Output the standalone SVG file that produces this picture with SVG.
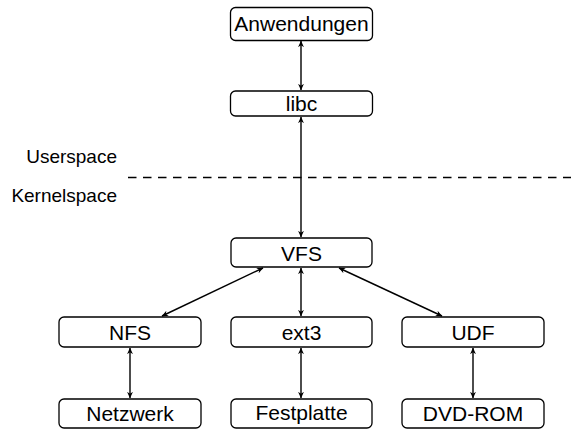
<svg xmlns="http://www.w3.org/2000/svg" width="571" height="429" viewBox="0 0 571 429">
<defs>
<marker id="ah" viewBox="0 0 10 10" refX="9.5" refY="5" markerWidth="6.5" markerHeight="6.5" orient="auto-start-reverse" markerUnits="userSpaceOnUse">
<path d="M0,0.5 L10,5 L0,9.5 L3,5 Z" fill="#000"/>
</marker>
</defs>
<style>
.box{fill:#fff;stroke:#000;stroke-width:1.3}
.t{font-family:"Liberation Sans",Arial,sans-serif;font-size:21px;fill:#000;text-anchor:middle}
.lbl{font-family:"Liberation Sans",Arial,sans-serif;font-size:19px;fill:#000;text-anchor:end}
.c{stroke:#000;stroke-width:1.4;fill:none;marker-start:url(#ah);marker-end:url(#ah)}
</style>
<rect width="571" height="429" fill="#fff"/>
<g id="connectors">
<line class="c" x1="301" y1="41" x2="301" y2="90"/>
<line class="c" x1="301" y1="117" x2="301" y2="237"/>
<line class="c" x1="263" y1="268" x2="162" y2="316"/>
<line class="c" x1="301" y1="268" x2="301" y2="316"/>
<line class="c" x1="339" y1="268" x2="442" y2="316"/>
<line class="c" x1="130" y1="348" x2="130" y2="398"/>
<line class="c" x1="301" y1="348" x2="301" y2="398"/>
<line class="c" x1="473" y1="348" x2="473" y2="398"/>
</g>
<g id="divider">
<line x1="128" y1="177.5" x2="571" y2="177.5" stroke="#000" stroke-width="1.3" stroke-dasharray="8.5 6.5"/>
<text class="lbl" x="117" y="163">Userspace</text>
<text class="lbl" x="117" y="202">Kernelspace</text>
</g>
<g id="anwendungen"><rect class="box" x="230.5" y="7.5" width="142" height="33" rx="5"/><text class="t" x="301.5" y="31">Anwendungen</text></g>
<g id="libc"><rect class="box" x="230.5" y="91" width="142" height="25" rx="5"/><text class="t" x="301.5" y="111">libc</text></g>
<g id="vfs"><rect class="box" x="231" y="238" width="141" height="29" rx="5"/><text class="t" x="301.5" y="260.5">VFS</text></g>
<g id="nfs"><rect class="box" x="59" y="317" width="142" height="30" rx="5"/><text class="t" x="130" y="340">NFS</text></g>
<g id="ext3"><rect class="box" x="231" y="317" width="141" height="30" rx="5"/><text class="t" x="301.5" y="340">ext3</text></g>
<g id="udf"><rect class="box" x="402" y="317" width="142" height="30" rx="5"/><text class="t" x="473" y="340">UDF</text></g>
<g id="netzwerk"><rect class="box" x="59" y="399" width="142" height="29" rx="5"/><text class="t" x="130" y="421">Netzwerk</text></g>
<g id="festplatte"><rect class="box" x="231" y="399" width="141" height="29" rx="5"/><text class="t" x="301.5" y="419.5">Festplatte</text></g>
<g id="dvdrom"><rect class="box" x="402" y="399" width="142" height="29" rx="5"/><text class="t" x="473" y="421">DVD-ROM</text></g>
</svg>
